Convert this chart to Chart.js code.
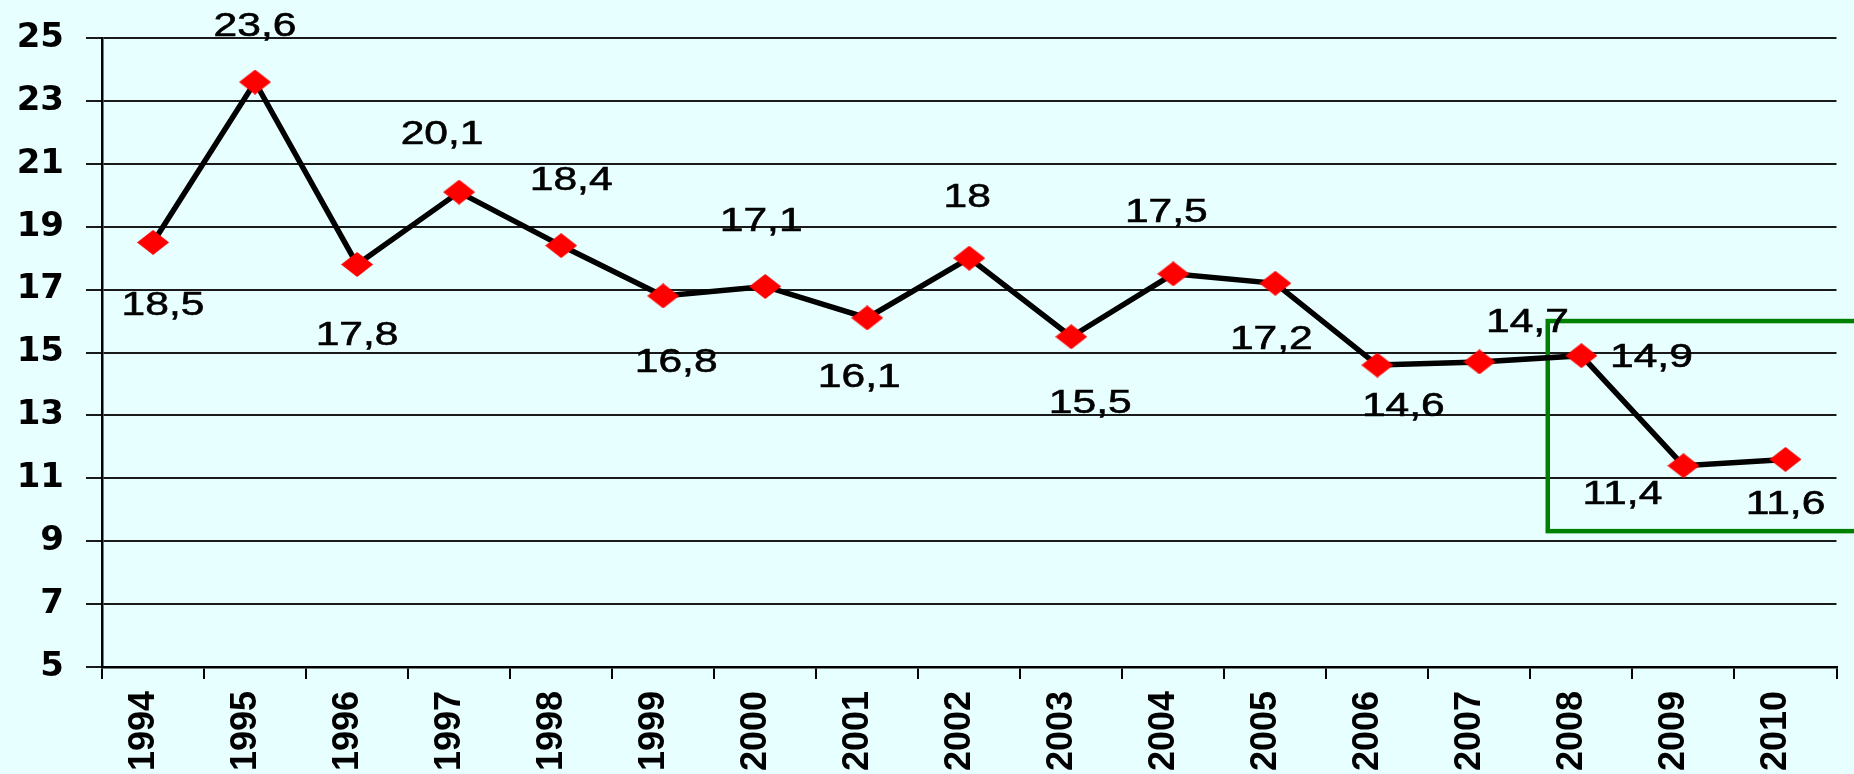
<!DOCTYPE html>
<html>
<head>
<meta charset="utf-8">
<title>1994-2010</title>
<script src="https://cdn.jsdelivr.net/npm/chart.js@4.4.1/dist/chart.umd.min.js"></script>
<style>
  html, body { margin: 0; padding: 0; background: #e8ffff; }
  #wrap { width: 1854px; height: 774px; position: relative; }
</style>
</head>
<body>
<div id="wrap"><canvas id="chart"></canvas></div>
<script>
const years = ['1994', '1995', '1996', '1997', '1998', '1999', '2000', '2001', '2002',
               '2003', '2004', '2005', '2006', '2007', '2008', '2009', '2010'];
const values = [18.5, 23.6, 17.8, 20.1, 18.4, 16.8, 17.1, 16.1, 18, 15.5, 17.5, 17.2,
                14.6, 14.7, 14.9, 11.4, 11.6];
const yTicks = [5, 7, 9, 11, 13, 15, 17, 19, 21, 23, 25];
const valueLabels = values.map(v => String(v).replace('.', ','));

// where each value label sits relative to its point: [dx, baseline dy]
const labelOffsets = [[10, 73], [0, -46], [0, 81], [-17, -48], [10, -56], [13, 76], [-4, -55],
                      [-8, 69], [-2, -51], [19, 76], [-7, -52], [-4, 66], [26, 51], [48, -30],
                      [70, 11], [-61, 38], [0, 55]];

// green frame round the last years, in axis units
const boxFrom = 13.67, boxTop = 16.0, boxBottom = 9.32;

function diamond(w, h, color) {
  const c = document.createElement('canvas');
  c.width = w;
  c.height = h;
  const g = c.getContext('2d');
  g.fillStyle = color;
  g.beginPath();
  g.moveTo(w / 2, 0);
  g.lineTo(w, h / 2);
  g.lineTo(w / 2, h);
  g.lineTo(0, h / 2);
  g.closePath();
  g.fill();
  return c;
}

const background = {
  id: 'background',
  beforeDraw(chart) {
    const ctx = chart.ctx;
    ctx.save();
    ctx.fillStyle = '#e8ffff';
    ctx.fillRect(0, 0, chart.width, chart.height);
    ctx.restore();
  }
};

const frame = {
  id: 'frame',
  beforeDatasetsDraw(chart) {
    const { ctx, scales: { x, y } } = chart;
    const left = x.getPixelForValue(boxFrom);
    const top = y.getPixelForValue(boxTop);
    const bottom = y.getPixelForValue(boxBottom);
    ctx.save();
    ctx.strokeStyle = '#008000';
    ctx.lineWidth = 4.5;
    ctx.strokeRect(left, top, chart.width + 20 - left, bottom - top);
    ctx.restore();
  }
};

const valueText = {
  id: 'valueText',
  afterDatasetsDraw(chart) {
    const ctx = chart.ctx;
    const meta = chart.getDatasetMeta(0);
    ctx.save();
    ctx.font = '33px "Liberation Sans", Arial, sans-serif';
    ctx.fillStyle = '#000';
    ctx.strokeStyle = '#000';
    ctx.lineWidth = 0.6;
    ctx.textAlign = 'center';
    ctx.textBaseline = 'alphabetic';
    meta.data.forEach((pt, i) => {
      const [dx, dy] = labelOffsets[i];
      ctx.save();
      ctx.translate(pt.x + dx, pt.y + dy);
      ctx.scale(1.29, 1);
      ctx.fillText(valueLabels[i], 0, 0);
      ctx.strokeText(valueLabels[i], 0, 0);
      ctx.restore();
    });
    ctx.restore();
  }
};

new Chart(document.getElementById('chart'), {
  type: 'line',
  data: {
    labels: years,
    datasets: [{
      data: values,
      borderColor: '#000',
      borderWidth: 5.5,
      tension: 0,
      pointStyle: diamond(32, 25, '#ff0000'),
      pointRadius: 12,
      pointHoverRadius: 12
    }]
  },
  options: {
    responsive: true,
    maintainAspectRatio: false,
    animation: false,
    events: [],
    layout: { padding: { top: 38, right: 9, left: 0, bottom: 0 } },
    plugins: {
      legend: { display: false },
      tooltip: { enabled: false }
    },
    scales: {
      x: {
        type: 'category',
        offset: true,
        afterFit: s => { s.height = 107; },
        grid: {
          offset: true,
          drawOnChartArea: false,
          drawTicks: true,
          tickLength: 12,
          color: '#000',
          lineWidth: 2
        },
        border: { color: '#000', width: 2.5 },
        ticks: {
          color: '#000',
          font: { family: '"Liberation Sans", Arial, sans-serif', size: 36, weight: 'bold' },
          minRotation: 90,
          maxRotation: 90,
          padding: 12,
          labelOffset: -9,
          autoSkip: false
        }
      },
      y: {
        min: 5,
        max: 25,
        afterFit: s => { s.width = 102; },
        afterBuildTicks: s => { s.ticks = yTicks.map(v => ({ value: v })); },
        grid: {
          color: '#1a1a1a',
          lineWidth: 2,
          tickLength: 16
        },
        border: { color: '#000', width: 2.5 },
        ticks: {
          color: '#000',
          font: { family: '"DejaVu Sans", sans-serif', size: 34, weight: 'bold', lineHeight: 0.8 },
          padding: 22
        }
      }
    }
  },
  plugins: [background, frame, valueText]
});
</script>
</body>
</html>
